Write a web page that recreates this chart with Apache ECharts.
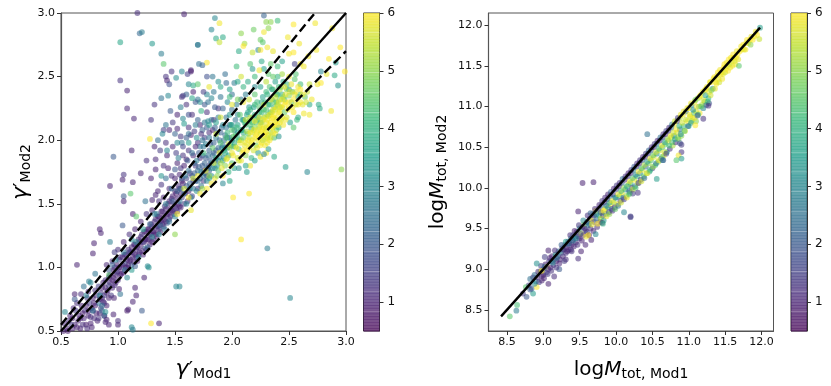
<!DOCTYPE html>
<html>
<head>
<meta charset="utf-8">
<title>Model comparison</title>
<script src="https://cdn.jsdelivr.net/npm/echarts@6/dist/echarts.min.js"></script>
<style>
  html, body { margin: 0; padding: 0; background: #fff; }
  #chart { width: 831px; height: 386px; }
</style>
</head>
<body>
<div id="chart"></div>
<script>
var viridis = ["#440154", "#482878", "#3e4989", "#31688e", "#26828e", "#1f9e89", "#35b779", "#6ece58", "#b5de2b", "#fde725"];
var colourMin = 0.5;
var colourMax = 6;

// [x, y, redshift]
var gammaOutliers = [
  [1.17,3.0,1.2],[1.58,2.99,1],[1.19,2.84,2.3],[1.21,2.85,2.8],[1.02,2.77,3.7],[1.3,2.76,3.4],[1.7,2.75,3],[1.38,2.68,2.8],
  [1.4,2.6,4.5],[1.78,2.61,6],[1.71,2.6,2.5],[1.74,2.59,2.2],[1.47,2.54,1.3],[1.56,2.54,3],[1.64,2.55,1],[1.64,2.54,0.9],
  [1.42,2.5,1.3],[1.43,2.47,1],[1.51,2.49,3.2],[1.61,2.52,1.5],[1.45,2.44,1.8],[1.02,2.47,1.3],[1.08,2.39,1],[1.08,2.25,1.1],
  [1.14,2.17,1.1],[1.32,2.28,1.3],[1.38,2.33,2.5],[1.44,2.35,3],[1.46,2.23,2],[1.29,2.16,1.3],[1.56,2.34,1.2],[1.57,2.35,1.5],
  [1.66,2.43,3.8],[1.7,2.44,4.5],[1.28,2.01,6],[1.32,1.95,1],[1.12,1.92,1],[0.96,1.87,2],[1.25,1.84,1.2],[1.05,1.73,1.3],
  [1.04,1.69,1],[1.13,1.67,1],[0.93,1.64,1],[1.2,1.74,1],[1.33,1.77,1],[1.29,1.7,1],[1.4,1.8,1.2],[1.4,2.08,1.5],[1.45,2.08,1],
  [1.52,2.09,1.1],[1.39,2.05,3],[1.57,2.17,3],[1.62,2.2,1.8],[1.7,2.16,2.2],[1.79,2.15,3],[1.58,2.13,3.4],[1.62,2.1,1.2],
  [1.67,2.07,1.5],[1.55,2.03,1.3],[1.6,2.02,2],[1.73,2.05,1.2],[1.52,1.98,3],[1.57,1.95,1.6],[1.62,1.98,3.5],[1.68,1.95,1.1],
  [1.76,2.28,2],[1.73,2.23,4],[1.79,2.3,2.5],[1.68,2.3,2],[1.65,2.33,3.7],[1.75,2.38,1.5],[1.8,2.42,5.8],[1.65,2.2,1.2],
  [1.85,2.96,3],[2.28,2.98,2.2],[1.89,2.92,5.9],[2.3,2.93,5],[2.34,2.93,5],[2.4,2.94,4.2],[1.82,2.87,3],[2.08,2.84,5],
  [2.19,2.87,4.7],[2.28,2.85,5.9],[2.32,2.88,5],[1.92,2.81,3.8],[1.86,2.8,3.8],[1.89,2.77,5.5],[1.7,2.75,2.5],[2.25,2.79,4.7],
  [2.27,2.77,4.5],[2.11,2.76,5.2],[2.1,2.74,6],[2.06,2.7,3.8],[2.18,2.69,5.5],[2.23,2.71,3],[2.25,2.71,6],[2.31,2.73,5.9],
  [2.36,2.7,5.8],[2.49,2.81,5.9],[2.54,2.91,6],[2.73,2.92,5.9],[2.88,2.88,5.9],[2.59,2.76,5.9],[2.5,2.68,5.9],[2.54,2.69,6],
  [2.67,2.66,5.9],[2.74,2.71,5.9],[2.95,2.73,6],[2.85,2.64,6],[2.91,2.61,3.5],[2.99,2.54,6],[2.55,2.6,1.5],[2.6,2.6,5.9],
  [2.63,2.58,5.9],[2.78,2.54,3],[2.83,2.52,5.8],[2.9,2.51,3.8],[2.78,2.45,6],[2.93,2.43,3.3],[2.75,2.44,5.9],[2.68,2.44,5.5],
  [2.76,2.28,3.8],[2.77,2.25,3.8],[2.87,2.23,5.9],[2.58,2.18,3.8],[2.63,2.21,5.9],[2.68,2.2,5.9],[2.41,2.03,3.3],[2.54,2.1,4.5],
  [2.37,1.87,3.8],[2.47,1.79,3.5],[2.66,1.75,3],[2.96,1.77,5],[2.28,1.89,3],[2.13,1.75,3.5],[1.92,1.66,3],[2.15,1.58,6],
  [2.01,1.55,6],[2.08,1.22,6],[2.31,1.15,2.8],[2.51,0.76,3],
  [1.05,1.56,2],[1.11,1.58,4.5],[1.05,1.52,1],[0.84,1.3,1],[0.85,1.27,1],[0.79,1.19,1],[0.78,1.11,1],[0.93,1.2,2.8],[0.64,1.02,1],
  [0.97,1.12,1.5],[1.04,1.33,2],[1.13,1.42,1],[1.16,1.4,4.5],[1.24,1.52,2.5],[1.3,1.53,1],[1.33,1.57,1],[1.5,1.26,5],[0.745,0.89,2.8],
  [0.62,0.79,1],[0.675,0.79,1.2],[0.74,0.81,1],[0.535,0.65,3],[0.965,0.76,1],[1.02,0.79,2.5],[1.01,0.83,1],[1.15,0.84,1],[1.16,0.78,1],
  [1.13,0.73,1],[1.09,0.67,1],[1.08,0.66,0.9],[1.21,0.66,2],[1.29,0.56,6],[1.36,0.56,1],[1.12,0.53,3],[1.13,0.51,2.8],[1.51,0.85,3],
  [1.54,0.85,3],[1.23,0.92,1],[1.26,1.01,3],[1.27,1.0,3.2],[1.08,0.92,3],[1.15,1.01,2],[0.92,0.94,4.5],[0.76,0.88,3],
  [0.89,0.65,3.2],[0.88,0.72,1.2],[0.86,0.7,2.5],[0.83,0.85,1.5],[0.96,0.63,1],[1.0,0.55,1],[1.0,0.58,1.2],[0.9,0.59,1],[0.89,0.57,1.1],[0.92,0.55,1]
];

var gammaPurple = [
  [0.52,0.5,1],[0.55,0.52,1],[0.57,0.58,1.2],[0.6,0.52,1],[0.6,0.6,0.9],[0.62,0.55,1.1],[0.63,0.66,1.4],[0.65,0.58,1],[0.66,0.62,1],
  [0.67,0.52,1],[0.68,0.7,1],[0.7,0.6,1.1],[0.71,0.66,1.3],[0.72,0.55,0.9],[0.73,0.52,1.2],[0.74,0.62,1],[0.75,0.72,1.5],[0.76,0.56,1],
  [0.77,0.68,1],[0.78,0.76,1],[0.79,0.6,1.2],[0.8,0.7,1],[0.8,0.82,1.2],[0.82,0.58,1],[0.83,0.72,2.5],[0.84,0.64,1],[0.85,0.8,1.3],
  [0.86,0.76,1],[0.87,0.88,1],[0.88,0.78,1.5],[0.89,0.84,1],[0.9,0.7,1],[0.91,0.82,1],[0.92,0.92,1.2],[0.93,0.88,1],[0.94,0.78,1.4],
  [0.95,0.9,1],[0.96,0.98,1],[0.97,0.86,1.3],[0.98,0.94,1],[0.99,1.02,1],[1.0,0.9,1.2],[1.0,0.97,1],[1.01,1.06,1.5],[1.02,0.94,1],
  [1.03,1.0,1.1],[1.04,1.08,1],[1.05,0.96,1],[1.06,1.03,2],[1.07,1.1,1],[1.08,1.0,1],[1.09,1.14,1.3],[1.1,1.05,1],[1.11,1.12,1],
  [1.12,1.02,2.2],[1.13,1.08,1],[1.14,1.18,1.5],[1.15,1.1,1],[1.16,1.14,1.1],[1.17,1.05,1],[1.18,1.22,1],[1.19,1.12,1.3],[1.2,1.17,1],
  [1.21,1.26,1.4],[1.22,1.1,1],[1.23,1.2,1],[1.24,1.15,2.4],[1.25,1.28,1],[1.26,1.22,1.2],[1.27,1.3,1],[1.28,1.18,1],[1.29,1.26,1.5],
  [1.3,1.32,1],[1.31,1.22,1.2],[1.32,1.28,1],[1.33,1.38,1.3],[1.34,1.24,1],[1.35,1.32,1.6],[1.36,1.4,1],[1.37,1.28,1],[1.38,1.36,1.1],
  [1.39,1.44,1.2],[1.4,1.32,1.5],[1.41,1.38,1],[1.42,1.46,1],[1.43,1.35,2],[1.44,1.42,1],[1.45,1.52,1.2],[1.46,1.4,1],[1.47,1.45,1.3],
  [1.48,1.56,1],[1.49,1.42,1.5],[1.5,1.48,1],[1.51,1.58,1],[1.52,1.44,1.2],[1.53,1.5,1],[1.54,1.62,1.4],[1.55,1.47,1],[1.56,1.55,1.5],
  [1.57,1.66,1],[1.58,1.5,1.3],[1.59,1.58,1],[1.6,1.7,1.6],[1.61,1.52,1.2],[1.62,1.6,1],[1.63,1.74,1.2],[1.65,1.56,1.5],[1.66,1.68,1],
  [1.68,1.8,1.4],[1.7,1.62,1.3],[1.72,1.86,1.2],[1.75,1.68,1.4],[1.4,1.55,1],[1.45,1.62,1.1],[1.5,1.7,1],[1.55,1.78,1.4],[1.6,1.85,1],
  [1.47,1.72,1.2],[1.52,1.82,1],[1.57,1.88,1.3],[1.44,1.78,1],[1.36,1.52,1.2],[1.3,1.45,1],[1.25,1.42,1.3],[1.2,1.36,1],[1.15,1.3,1],
  [1.1,1.26,1.2],[1.05,1.2,1],[1.0,1.14,1.2],[0.95,1.05,1],[0.9,1.02,1.1]
];

var gammaPurpleExtra = [
  [0.53,0.56,1.1],[0.56,0.5,0.9],[0.58,0.62,1],[0.59,0.55,1.4],[0.61,0.68,1.1],[0.64,0.53,1],[0.64,0.72,1.2],[0.67,0.6,1],[0.69,0.55,1.2],[0.69,0.64,0.9],
  [0.72,0.7,1],[0.73,0.76,1.3],[0.74,0.66,1],[0.76,0.61,1.2],[0.77,0.53,1],[0.78,0.66,1.5],[0.79,0.72,1],[0.81,0.64,1],[0.81,0.78,1.2],[0.83,0.6,1.3],
  [0.84,0.75,1],[0.85,0.68,1.4],[0.86,0.84,1],[0.87,0.73,1.1],[0.88,0.62,1],[0.89,0.9,1.2],[0.9,0.8,1],[0.92,0.76,1],[0.92,0.86,1.5],[0.93,0.94,1],
  [0.95,0.84,1.1],[0.96,0.92,1],[0.97,1.0,1.2],[0.98,0.88,1],[0.99,0.96,1.4],[1.01,1.0,1],[1.02,1.08,1.2],[1.03,0.95,1],[1.04,1.02,1],[1.06,1.1,1.3],
  [1.07,1.0,1],[1.08,1.06,1.1],[1.09,1.02,1],[1.1,1.12,1.6],[1.11,1.06,1],[1.12,1.16,1],[1.13,1.12,1.2],[1.14,1.04,1],[1.15,1.18,1],[1.16,1.08,1.3],
  [1.17,1.16,1],[1.18,1.1,1.1],[1.19,1.2,1],[1.2,1.24,1.2],[1.21,1.13,1],[1.22,1.2,1.5],[1.23,1.28,1],[1.24,1.22,1],[1.25,1.14,1.2],[1.26,1.3,1],
  [1.27,1.22,1.1],[1.28,1.26,1],[1.29,1.34,1.3],[1.3,1.2,1],[1.31,1.28,1],[1.32,1.36,1.2],[1.33,1.26,1],[1.34,1.32,1.1],[1.35,1.4,1],[1.36,1.3,1.4],
  [1.37,1.36,1],[1.38,1.44,1],[1.39,1.34,1.2],[1.4,1.4,1],[1.41,1.48,1.3],[1.42,1.36,1],[1.43,1.42,1.1],[1.44,1.5,1],[1.45,1.38,1.5],[1.46,1.46,1],
  [1.47,1.54,1.2],[1.48,1.44,1],[1.49,1.5,1.1],[1.5,1.6,1],[1.51,1.46,1.3],[1.52,1.54,1],[1.53,1.64,1.2],[1.54,1.48,1],[1.55,1.58,1.1],[1.56,1.68,1],
  [1.35,1.6,1],[1.38,1.65,1.3],[1.33,1.85,1.1],[1.37,1.92,1.4],[1.42,1.98,1.2],[1.48,1.95,1.1],[1.43,1.88,1],[1.51,1.9,1.5],[1.54,1.73,1.1],[1.58,1.8,1],
  [1.62,1.92,1.3],[1.66,1.88,1.1],[1.7,1.98,1.2],[1.64,2.04,1],[1.76,2.02,1.5],[1.8,2.06,1.2],[1.72,2.12,1],[1.84,2.16,1.1],[1.88,2.25,1.3],[1.6,2.28,1.2],
  [1.52,2.2,1],[1.48,2.14,1.4],[1.66,2.38,1],[1.78,2.22,1.2],[1.83,2.08,1],[1.75,1.76,1.2],[1.78,1.72,1.1],[1.8,1.8,1.4]
];

var gammaBlue = [
  [0.62,0.75,2],[0.7,0.85,2.5],[0.8,0.95,2.6],[0.88,0.62,2.2],[0.95,1.02,2.2],[1.05,1.12,2.6],[1.12,1.22,3],[1.18,1.08,3],[1.22,1.3,3.5],
  [1.28,1.34,2.2],[1.3,1.24,3],[1.34,1.42,2.4],[1.37,1.33,2.2],[1.42,1.5,2.8],[1.45,1.36,2.4],[1.48,1.52,2],[1.5,1.4,3],[1.52,1.6,2.2],
  [1.54,1.52,2.6],[1.56,1.7,2],[1.58,1.58,2.4],[1.6,1.5,3],[1.6,1.64,2],[1.62,1.76,2.6],[1.63,1.66,2.2],[1.64,1.55,2.8],[1.65,1.72,2],
  [1.66,1.62,2.5],[1.67,1.82,2.2],[1.68,1.68,1.9],[1.69,1.6,3.1],[1.7,1.76,2.4],[1.71,1.9,2],[1.72,1.7,2.2],[1.73,1.64,2.6],[1.74,1.8,2],
  [1.75,1.95,2.6],[1.76,1.74,2.3],[1.77,1.86,2],[1.78,1.68,3],[1.79,1.78,2.4],[1.8,1.92,2.2],[1.8,2.02,2.6],[1.81,1.84,2],[1.82,1.72,3.2],
  [1.83,1.88,2.4],[1.84,1.98,2.2],[1.85,1.78,2.8],[1.86,1.92,2],[1.87,2.06,2.5],[1.88,1.84,2.6],[1.89,2.0,2.2],[1.9,1.9,3],[1.91,2.1,2.3],
  [1.92,1.96,2.5],[1.93,1.86,3.2],[1.94,2.04,2.4],[1.95,2.18,2.6],[1.96,1.94,3],[1.98,2.12,2.2],[2.0,2.0,3],[2.0,2.24,2.4],[2.02,2.08,2.8],
  [2.05,2.2,3],[2.08,2.32,2.6],[2.1,2.16,3.2],[2.12,2.36,2.8],[2.15,2.26,3.4],[2.2,2.42,3],[1.85,2.1,2.2],[1.88,2.18,2.8],[1.82,2.16,2.4],
  [1.78,2.1,2],[1.74,2.0,2.6],[1.92,2.25,2.2],[1.96,2.3,3],[2.0,2.36,2.5],[1.85,2.26,2],[1.9,2.34,2.6],[1.82,2.33,3],[1.95,2.45,2.3],
  [2.02,2.45,2.7],[1.88,2.46,3.2],[1.94,2.52,2.4],[1.83,2.5,2.6],[1.78,2.5,1.8]
];

var gammaBlueExtra = [
  [1.47,1.62,2.4],[1.5,1.77,2],[1.53,1.86,2.8],[1.55,1.62,2.2],[1.59,1.72,2.6],[1.61,1.84,2],[1.63,1.62,3],[1.65,1.9,2.4],[1.67,1.74,2.1],[1.69,1.84,2.8],
  [1.7,1.68,2.3],[1.71,1.79,2.2],[1.72,1.95,2.6],[1.73,1.75,3],[1.74,1.88,2.1],[1.75,1.72,2.5],[1.76,1.82,2.2],[1.77,1.97,2.8],[1.78,1.78,2.3],[1.79,1.88,2.5],
  [1.8,1.7,3.4],[1.8,1.76,2.2],[1.81,1.97,2],[1.82,1.82,2.6],[1.83,1.78,3.1],[1.84,1.9,2.2],[1.85,1.84,2.4],[1.86,2.02,2.8],[1.87,1.8,3.4],[1.88,1.94,2.3],
  [1.89,1.87,3],[1.9,2.06,2.2],[1.91,1.94,2.7],[1.92,1.84,3.6],[1.93,2.0,2.4],[1.94,1.94,3.2],[1.95,2.1,2.6],[1.96,2.02,3],[1.97,1.88,3.6],[1.98,2.02,2.8],
  [2.0,2.12,3.2],[2.01,1.95,3.6],[2.03,2.16,2.6],[2.05,2.06,3.4],[1.86,2.14,3.6],[1.92,2.12,3],[1.98,2.2,3.4],[2.04,2.28,2.8],[1.76,2.14,2.6],[1.69,2.02,3.2],
  [1.74,2.08,2.2],[1.8,2.12,3.6],[1.68,2.12,2.8],[1.62,2.05,2.5],[1.72,2.3,3.2],[1.84,2.38,2.6],[1.9,2.42,3.8],[1.98,2.4,3.6],[1.78,2.36,3],[1.7,2.32,2.6],
  [1.6,2.36,2.2],[1.62,2.44,3],[1.55,2.26,2.8],[1.42,2.12,2.6],[1.5,2.05,2.2],[1.56,1.98,2.6],[1.43,1.92,3],[1.35,2.0,2.4],[1.38,1.72,3.3],[1.42,1.7,2.4],
  [0.72,0.78,3],[0.78,0.66,2.6],[0.86,0.66,2.2],[0.84,0.78,3],[0.92,0.98,2],[0.98,1.06,3],[1.06,0.98,2.4],[1.12,0.98,3.4],[1.16,1.2,3],[1.26,1.16,2.2],
  [1.32,1.42,2.8],[1.36,1.26,3],[1.41,1.3,2.6]
];

var gammaGreen = [
  [1.86,1.86,4],[1.9,1.98,4.4],[1.94,1.9,3.8],[1.96,2.06,4.2],[1.99,1.96,3.6],[2.0,2.08,4.5],[2.02,1.98,3.8],[2.03,2.04,4.2],[2.05,2.12,3.6],[2.06,2.0,4.4],
  [2.08,2.08,4],[2.09,2.16,3.6],[2.1,2.06,3.8],[2.12,2.12,4.2],[2.13,2.2,3.8],[2.14,2.05,4.5],[2.15,2.15,3.6],[2.16,2.24,4.2],[2.17,2.09,3.8],[2.18,2.14,4.4],
  [2.19,2.26,3.6],[2.2,2.2,4],[2.21,2.14,4.4],[2.22,2.3,4.2],[2.23,2.18,3.8],[2.24,2.26,4.5],[2.25,2.14,4],[2.26,2.22,4.2],[2.27,2.34,3.6],[2.28,2.24,4.4],
  [2.29,2.3,4],[2.3,2.38,4.2],[2.31,2.2,4.6],[2.32,2.28,3.8],[2.33,2.42,4.4],[2.34,2.22,4.2],[2.35,2.32,3.8],[2.36,2.4,4.6],[2.37,2.26,4],[2.38,2.46,3.6],
  [2.39,2.3,4.5],[2.4,2.36,3.8],[2.41,2.42,4.2],[2.42,2.26,4.6],[2.44,2.36,4],[2.45,2.46,3.8],[2.46,2.32,4.4],[2.48,2.44,4],[2.5,2.4,3.4],[2.53,2.38,4.2],
  [2.55,2.48,4.5],[2.58,2.34,3.6],[2.6,2.44,4.2],[2.2,2.5,4.2],[2.28,2.56,3.6],[2.32,2.52,4.5],[2.1,2.42,4],[2.05,2.46,3.7],[2.16,2.6,4.4],[2.26,2.62,3.8],
  [2.4,2.58,4.2],[2.44,2.62,3.6],[2.34,2.6,4.6],[1.98,2.34,4.2]
];

var gammaYellow = [
  [1.62,1.55,6],[1.66,1.7,5.5],[1.72,1.58,5.9],[1.75,1.9,4.2],[1.78,1.62,6],[1.8,1.72,5],[1.83,1.94,4.6],[1.85,1.7,5.9],[1.86,2.05,5.6],
  [1.88,1.76,4.5],[1.9,1.82,5.2],[1.9,2.18,5.6],[1.92,1.72,6],[1.93,1.92,4],[1.94,1.8,5],[1.95,2.02,4.4],[1.96,1.86,5.6],[1.97,1.75,4],
  [1.98,1.94,5.2],[1.99,2.12,3.8],[2.0,1.82,4.4],[2.0,1.9,5.8],[2.01,2.03,4.6],[2.02,1.78,3.6],[2.03,1.95,5],[2.04,2.1,4.2],[2.05,1.86,5.6],
  [2.05,2.02,4],[2.06,1.93,4.6],[2.07,2.2,4.5],[2.08,1.84,5.9],[2.08,2.0,5.4],[2.09,2.08,3.8],[2.1,1.92,6],[2.1,2.02,4.6],[2.11,2.14,4.2],
  [2.12,1.88,5],[2.12,1.98,5.8],[2.13,2.07,5.2],[2.14,2.22,3.6],[2.15,1.94,5.9],[2.15,2.02,5.5],[2.16,2.12,4.4],[2.17,1.86,4],[2.17,1.98,6],
  [2.18,2.06,5.4],[2.18,2.18,4],[2.19,1.92,5.6],[2.2,2.02,5.9],[2.2,2.1,5],[2.2,2.28,4.2],[2.21,1.96,4.8],[2.22,2.06,5.9],[2.22,2.16,4.6],
  [2.23,1.9,3.4],[2.23,2.0,5.8],[2.24,2.1,5.2],[2.24,2.22,4.2],[2.25,1.96,6],[2.25,2.05,5.6],[2.26,2.14,5],[2.26,2.3,3.8],[2.27,2.0,5],
  [2.27,2.09,5.9],[2.28,2.18,4.6],[2.29,1.96,5.9],[2.29,2.06,5.5],[2.3,2.14,5.8],[2.3,2.24,4.4],[2.31,2.02,5.2],[2.31,2.36,4],[2.32,2.1,5.8],
  [2.32,2.19,5],[2.33,2.0,6],[2.33,2.28,4.2],[2.34,2.06,5],[2.34,2.14,5.9],[2.35,2.22,5.2],[2.35,2.4,3.6],[2.36,2.1,5.5],[2.36,2.18,5.8],
  [2.37,2.02,4.4],[2.37,2.3,4.6],[2.38,2.14,6],[2.38,2.24,5.4],[2.39,2.08,5],[2.39,2.36,4.4],[2.4,2.18,5.8],[2.4,2.28,5],[2.41,2.1,4],
  [2.42,2.22,5.9],[2.42,2.32,4.8],[2.43,2.16,5.6],[2.43,2.42,4.2],[2.44,2.26,5.4],[2.45,2.12,5.9],[2.45,2.34,5],[2.46,2.22,4.6],[2.47,2.3,5.9],
  [2.48,2.18,5.6],[2.48,2.4,4.8],[2.5,2.26,5.9],[2.5,2.35,5],[2.51,2.14,3.6],[2.52,2.3,4.6],[2.52,2.44,5.8],[2.54,2.22,6],[2.55,2.36,5.9],
  [2.56,2.28,5.5],[2.57,2.16,4.2],[2.58,2.42,5.9],[2.6,2.3,5.9],[2.6,2.36,4.4],[2.62,2.28,5.8],[2.64,2.34,4.6],[2.66,2.38,5.5],[2.7,2.32,5.9],
  [2.68,2.28,3.8],[2.44,2.52,5.2],[2.4,2.5,4],[2.36,2.5,4.6],[2.3,2.46,5.4],[2.25,2.42,3.6],[2.2,2.36,4.5],[2.15,2.32,5.6],[2.1,2.3,5.9],
  [2.05,2.32,4.8],[2.0,2.28,5.8],[2.14,2.46,3.8],[2.24,2.55,5.9],[2.18,2.56,3.4],[2.08,2.5,5.6],[2.04,2.58,4.2],[2.5,2.5,5.9],[2.56,2.52,4.4],
  [1.98,1.68,3.8],[2.06,1.78,3.2],[2.16,1.8,5.9],[2.12,1.8,3.6],[2.3,1.9,5.9],[2.32,1.93,3.4],[2.25,1.87,5.9],[2.2,1.84,3.6]
];

var gammaYellowExtra = [
  [1.52,1.42,6],[1.58,1.62,5.5],[1.64,1.45,5.8],[1.7,1.72,5.9],[1.74,1.62,5.2],[1.77,1.76,5.8],[1.82,1.66,5.9],[1.84,1.82,5.5],[1.87,1.72,5],[1.89,1.9,5.9],
  [1.91,1.78,5.8],[1.95,1.85,5.9],[1.97,1.97,5.4],[1.99,1.8,5.9],[2.01,1.88,5.9],[2.04,1.94,6],[2.06,1.84,5.6],[2.07,1.98,5.9],[2.09,1.9,5.9],[2.11,1.96,5.8],
  [2.13,1.92,6],[2.14,2.0,5.9],[2.16,1.96,5.8],[2.16,2.06,6],[2.18,2.0,5.9],[2.19,2.08,5.8],[2.21,2.04,6],[2.22,1.94,5.9],[2.23,2.08,5.9],[2.24,2.02,6],
  [2.25,2.12,5.9],[2.26,1.98,5.9],[2.26,2.07,6],[2.27,2.16,5.8],[2.28,2.04,6],[2.28,2.1,5.9],[2.29,2.01,5.8],[2.29,2.18,5.9],[2.3,2.06,6],[2.3,2.1,5.7],
  [2.31,1.98,5.9],[2.31,2.16,5.9],[2.32,2.04,5.8],[2.33,2.12,6],[2.33,2.2,5.9],[2.34,2.02,5.6],[2.35,2.1,5.9],[2.35,2.17,6],[2.36,2.06,5.9],[2.36,2.24,5.9],
  [2.37,2.12,5.8],[2.37,2.2,6],[2.38,2.05,5.9],[2.39,2.16,5.8],[2.39,2.26,5.9],[2.4,2.12,6],[2.41,2.22,5.9],[2.41,2.3,5.8],[2.42,2.14,5.9],[2.43,2.26,6],
  [2.44,2.18,5.8],[2.44,2.32,5.9],[2.46,2.28,6],[2.47,2.16,5.9],[2.47,2.36,5.8],[2.49,2.24,5.9],[2.5,2.3,6],[2.51,2.38,5.8],[2.53,2.26,5.9],[2.54,2.32,6],
  [2.56,2.38,5.8],[2.58,2.28,5.9],[2.6,2.4,6],[2.62,2.36,5.9],[2.65,2.3,5.6],[2.46,2.42,5.9],[2.42,2.4,5.2],[2.38,2.34,5.5],[2.34,2.32,5.8],[2.28,2.28,5.6],
  [2.24,2.18,5.7],[2.2,2.15,5.9],[2.16,2.18,5.5],[2.12,2.16,5.6]
];

var gammaEqualX = [0.5, 3];
var gammaEqualY = [0.5, 3];
var gammaUpper = [[0.5, 0.55], [2.727, 3]];
var gammaLower = [[0.556, 0.5], [3, 2.7]];
var gammaTicks = [0.5, 1, 1.5, 2, 2.5, 3];

// [x, y, redshift]
var massOutliers = [
  [8.54,8.42,4.5],[8.63,8.49,2.8],[8.64,8.56,4.3],[8.77,8.66,2],[8.86,8.7,3.5],[8.91,8.78,6],[8.91,9.07,3.2],[8.76,8.78,4.5],[8.82,8.88,2.5],
  [9.15,8.91,1.2],[9.07,8.82,1],[9.07,9.23,1],[9.02,9.15,1.5],[9.22,9.0,2],[9.31,9.12,1.2],[9.48,9.13,1.2],[9.52,9.22,1],[9.66,9.36,1],
  [9.72,9.43,3],[9.48,9.71,1],[9.81,9.57,1.3],[10.11,9.7,3],[10.2,9.64,1.5],[10.43,10.66,2.5],[9.54,10.06,1],[9.69,10.07,1],[10.56,10.11,3.5],
  [10.2,9.65,1.5],[9.82,9.56,4],[10.88,10.55,2],[10.9,10.44,1.3],[10.86,10.4,5.9],[10.83,10.34,4.5],[10.9,10.36,3.5],[10.69,10.42,1.5],[10.65,10.34,2],
  [10.3,9.94,1.3],[10.23,9.93,1.5],[10.18,9.92,4.5],[11.98,11.97,3.5],[11.97,11.83,5.5],[11.85,11.76,5],[11.69,11.5,4.5],[11.27,11.01,1.2],
  [11.2,10.85,1.3],[11.12,10.89,2],[11.03,10.8,3.5],[11.09,10.77,6],[10.9,10.53,1.4],[10.64,10.34,2.6],[9.38,9.24,1.2],[9.58,9.3,1.1],[9.62,9.42,6],
  [9.18,9.02,1.3],[8.98,8.86,1],[8.88,8.82,3],[8.82,8.75,2],[8.72,8.7,1.4],[8.98,8.98,6]
];

var massLine = [
  [8.8,8.8,1.5],[8.84,8.76,2],[8.86,8.9,1.2],[8.9,8.85,3],[8.92,8.9,1],[8.94,8.84,1.5],[8.96,8.97,5.5],[8.98,8.92,1.2],[9.0,9.0,2.4],[9.0,8.93,1],
  [9.03,9.06,1],[9.04,8.96,1.5],[9.05,9.03,6],[9.07,9.0,1.2],[9.08,9.1,1.3],[9.1,9.02,1],[9.11,9.1,2],[9.12,9.16,1],[9.14,9.05,1.3],[9.15,9.12,2.6],
  [9.17,9.18,3.5],[9.18,9.1,1],[9.2,9.16,1.4],[9.21,9.22,2.4],[9.23,9.12,1],[9.24,9.2,3],[9.26,9.26,1.5],[9.27,9.16,1.1],[9.28,9.24,2.6],[9.3,9.3,2.2],
  [9.31,9.2,1.3],[9.32,9.27,1],[9.34,9.34,1.5],[9.35,9.24,1.1],[9.36,9.32,2.4],[9.38,9.38,3],[9.39,9.3,1],[9.4,9.36,1.2],[9.41,9.42,2],[9.42,9.28,1.1],
  [9.44,9.4,2.8],[9.45,9.33,1.2],[9.46,9.46,1.2],[9.48,9.4,1],[9.5,9.5,3.4],[9.5,9.38,1.3],[9.52,9.44,6],[9.54,9.52,1.2],[9.55,9.42,1],[9.56,9.55,5],
  [9.58,9.48,2],[9.6,9.58,1.2],[9.6,9.46,1.3],[9.62,9.54,3],[9.64,9.62,1.1],[9.65,9.5,1.2],[9.66,9.6,5.8],[9.68,9.68,2.2],[9.7,9.58,1.4],[9.7,9.66,1],
  [9.72,9.72,5.9],[9.73,9.62,2.6],[9.74,9.52,1.2],[9.76,9.74,1.3],[9.77,9.66,3.5],[9.78,9.58,1],[9.8,9.78,2.4],[9.8,9.7,6],[9.82,9.66,1.3],[9.84,9.82,1.1],
  [9.85,9.74,5.5],[9.86,9.68,3.2],[9.88,9.86,1],[9.89,9.76,4],[9.9,9.7,1.4],[9.92,9.9,2.6],[9.92,9.8,6],[9.94,9.74,2],[9.96,9.92,1.3],[9.97,9.82,5],
  [9.98,9.76,1.2],[10.0,9.98,1.6],[10.0,9.88,3.4],[10.02,9.8,5.9],[10.04,10.02,1],[10.05,9.9,4.5],[10.06,9.84,1.4],[10.08,10.06,2.2],[10.08,9.94,6],[10.1,9.88,2.4],
  [10.12,10.1,1],[10.13,9.98,3.4],[10.14,9.9,5],[10.16,10.14,1.5],[10.17,10.04,5.6],[10.18,9.96,2],[10.2,10.18,1.2],[10.2,10.06,4],[10.22,10.0,1.5],[10.24,10.22,3],
  [10.25,10.1,5.9],[10.26,10.02,2.6],[10.28,10.26,1.3],[10.29,10.14,4.2],[10.3,10.06,5.5],[10.32,10.3,1],[10.33,10.18,3],[10.34,10.1,1.4],[10.36,10.34,2.2],[10.36,10.22,5.9],
  [10.38,10.14,4.6],[10.4,10.38,1.2],[10.41,10.26,2.4],[10.42,10.18,5.2],[10.44,10.42,1.5],[10.45,10.3,5],[10.46,10.2,3.6],[10.48,10.46,2],[10.48,10.34,4.4],[10.5,10.24,1.4],
  [10.52,10.5,1.2],[10.52,10.38,5.8],[10.54,10.28,4.4],[10.56,10.54,2.8],[10.56,10.42,3.2],[10.58,10.32,5],[10.6,10.58,1.3],[10.6,10.46,5.6],[10.62,10.36,2.2],[10.64,10.62,1.5],
  [10.64,10.5,4.4],[10.66,10.4,5.8],[10.68,10.66,1.1],[10.68,10.54,4.8],[10.7,10.44,3.6],[10.72,10.7,1.4],[10.72,10.58,5.9],[10.74,10.48,1.3],[10.76,10.74,2.4],[10.76,10.62,5.5],
  [10.78,10.52,5.2],[10.8,10.78,5.9],[10.8,10.64,3.2],[10.82,10.56,1.2],[10.84,10.82,1.3],[10.84,10.68,5.7],[10.86,10.6,4.8],[10.88,10.86,5.4],[10.88,10.72,2.6],[10.9,10.64,5],
  [10.92,10.9,5.9],[10.93,10.76,4.2],[10.95,10.7,5.6],[10.96,10.94,2.4],[10.98,10.82,5.9],[11.0,10.98,5.9],[11.0,10.76,4],[11.02,10.88,5.5],[11.04,11.02,3],[11.05,10.86,5.9],
  [11.07,10.92,4.5],[11.08,11.06,5.9],[11.1,10.94,5.6],[11.1,10.82,5],[11.12,11.1,5.2],[11.14,11.0,4],[11.15,10.92,5.9],[11.16,11.14,5.9],[11.18,11.02,5.4],[11.2,10.98,3],
  [11.22,11.2,5.8],[11.22,11.06,5],[11.24,11.02,2.4],[11.25,11.24,5.9],[11.27,11.1,4],[11.28,11.04,1.8],[11.3,11.3,5.9],[11.3,11.14,5.6],[11.33,11.22,3.4],[11.35,11.36,6],
  [11.36,11.22,5.8],[11.38,11.28,5.9],[11.4,11.42,6],[11.42,11.3,5.6],[11.44,11.4,5.9],[11.46,11.34,5.9],[11.48,11.48,6],[11.5,11.42,5.5],[11.52,11.54,5.9],[11.54,11.44,6],
  [11.56,11.52,5],[11.58,11.6,5.9],[11.6,11.5,5.8],[11.62,11.6,6],[11.64,11.52,5.9],[11.66,11.68,5.9],[11.68,11.58,5.8],[11.7,11.68,6],[11.73,11.7,5.8],[11.75,11.76,6],
  [11.78,11.7,5.9],[11.8,11.82,6],[11.82,11.78,5.9],[11.86,11.86,5.8],[11.88,11.82,6],[11.92,11.92,5.9],[11.94,11.88,6]
];

var massLineExtra = [
  [8.88,8.93,2.4],[8.93,8.97,1.2],[8.97,9.04,1.5],[9.01,8.89,1.1],[9.02,9.03,2.2],[9.06,8.94,1.4],[9.09,9.14,1.1],[9.11,8.98,1.3],[9.13,9.08,3],[9.16,9.23,1.2],
  [9.19,9.14,2.6],[9.22,9.07,1.1],[9.25,9.3,2.2],[9.27,9.24,1],[9.29,9.1,1.4],[9.31,9.34,3.6],[9.33,9.22,1],[9.35,9.31,2],[9.37,9.42,1.2],[9.39,9.22,1.3],
  [9.41,9.35,2.6],[9.43,9.47,1],[9.45,9.38,3],[9.47,9.3,1.2],[9.49,9.54,1.4],[9.51,9.44,2],[9.53,9.35,1],[9.55,9.6,3],[9.57,9.5,1.1],[9.59,9.4,5.8],
  [9.61,9.66,1.3],[9.63,9.56,2.4],[9.63,9.42,1],[9.65,9.69,2.2],[9.67,9.55,5.8],[9.69,9.47,1.1],[9.71,9.74,1.2],[9.73,9.68,3.2],[9.75,9.56,6],[9.77,9.79,1.1],
  [9.79,9.7,2.2],[9.79,9.62,5.4],[9.81,9.84,1.4],[9.83,9.72,6],[9.83,9.6,3.4],[9.85,9.88,1.2],[9.87,9.78,2.8],[9.87,9.65,5.8],[9.89,9.92,1],[9.91,9.82,3.6],
  [9.91,9.68,5],[9.93,9.95,2.2],[9.95,9.84,5.9],[9.95,9.72,1.3],[9.97,9.99,1.1],[9.99,9.88,3],[9.99,9.74,4.6],[10.01,10.03,1.4],[10.03,9.92,5.8],[10.03,9.78,2.6],
  [10.05,10.06,1.2],[10.07,9.96,4.2],[10.07,9.82,5.6],[10.09,10.11,2.4],[10.11,10.0,5],[10.11,9.86,1.5],[10.13,10.14,1.2],[10.15,10.02,3.8],[10.15,9.88,5.9],[10.17,10.18,1],
  [10.19,10.08,5.8],[10.19,9.94,2.8],[10.21,10.22,1.4],[10.23,10.12,4.4],[10.23,9.98,5.4],[10.25,10.26,2],[10.27,10.16,3],[10.27,10.0,4.4],[10.29,10.3,1.2],[10.31,10.2,5.9],
  [10.31,10.06,1.5],[10.33,10.34,1.3],[10.35,10.24,4.2],[10.35,10.08,5.6],[10.37,10.38,1.1],[10.39,10.28,5.2],[10.39,10.12,2.4],[10.41,10.42,1.5],[10.43,10.32,3.4],[10.43,10.18,5.8],
  [10.45,10.46,2.2],[10.47,10.36,5.8],[10.47,10.22,4.2],[10.49,10.5,1.2],[10.51,10.4,4.6],[10.51,10.26,5],[10.53,10.54,1.4],[10.55,10.44,5.6],[10.55,10.3,2.8],[10.57,10.58,1.1],
  [10.59,10.48,4],[10.59,10.34,5.8],[10.61,10.62,2.4],[10.63,10.52,5.8],[10.63,10.38,4.6],[10.65,10.66,1.3],[10.67,10.56,3.6],[10.67,10.44,5.5],[10.69,10.7,1.5],[10.71,10.6,5],
  [10.73,10.74,1.2],[10.73,10.52,4.2],[10.75,10.64,5.8],[10.77,10.78,2.6],[10.77,10.56,4.4],[10.79,10.68,5.6],[10.81,10.82,5.5],[10.81,10.6,3.6],[10.83,10.72,5.9],[10.85,10.86,1.4],
  [10.85,10.62,5],[10.87,10.76,4],[10.89,10.9,5.8],[10.89,10.66,3.2],[10.91,10.8,5.6],[10.93,10.94,5.9],[10.94,10.7,4.6],[10.96,10.84,5.5],[10.98,10.98,5.9],[10.99,10.76,2.4],
  [11.01,10.9,5.9],[11.03,11.04,5.9],[11.04,10.82,5.2],[11.06,10.96,3.2],[11.08,10.86,5.8],[11.09,11.08,4.8],[11.11,11.0,5.9],[11.13,10.9,4.2],[11.15,11.12,5.9],[11.17,11.0,4.6],
  [11.19,11.18,5.9],[11.2,11.08,5.6],[11.23,11.14,3.6],[11.24,11.22,5.9],[11.26,11.06,4.2],[11.28,11.18,5.8],[11.29,11.3,5.9],[11.31,11.2,5],[11.34,11.34,5.9],[11.37,11.3,5.9],
  [11.39,11.38,5.9],[11.41,11.34,5.8],[11.43,11.45,5.9],[11.45,11.42,6],[11.47,11.4,5.8],[11.49,11.52,6],[11.51,11.46,5.9],[11.53,11.5,5.6],[11.55,11.58,6],[11.57,11.48,5.9],
  [11.59,11.56,5.9],[11.61,11.64,6],[11.63,11.56,5.7],[11.65,11.6,5.9],[11.67,11.64,6],[11.72,11.74,5.9],[11.76,11.7,5.8],[11.79,11.78,5.9],[11.84,11.82,6],[11.9,11.86,5.9]
];

var massLineX = [8.42, 11.98];
var massLineY = [8.42, 11.97];
var massTicks = [8.5, 9, 9.5, 10, 10.5, 11, 11.5, 12];

var colourbarTicks = [1, 2, 3, 4, 5, 6];
var colourbarEdges = [0.84, 1.19, 1.53, 1.88, 2.22, 2.56, 2.91, 3.25, 3.59, 3.94, 4.28, 4.63, 4.97, 5.31, 5.66];

function hexToRgb(hex) {
  return [parseInt(hex.substr(1, 2), 16), parseInt(hex.substr(3, 2), 16), parseInt(hex.substr(5, 2), 16)];
}

function colourAt(v) {
  let t = (v - colourMin) / (colourMax - colourMin) * (viridis.length - 1);
  let i = Math.min(Math.floor(t), viridis.length - 2);
  let a = hexToRgb(viridis[i]);
  let b = hexToRgb(viridis[i + 1]);
  let f = t - i;
  let c = a.map((p, k) => Math.round(p + (b[k] - p) * f));
  return "rgba(" + c.join(",") + ",0.72)";
}

// colourbar body, one thin rect per step plus the light seams
function renderColourbar(params, api) {
  let lo = api.value(0);
  let hi = api.value(1);
  let p0 = api.coord([0, hi]);
  let p1 = api.coord([1, lo]);
  return {
    type: "rect",
    shape: { x: p0[0], y: p0[1], width: p1[0] - p0[0], height: p1[1] - p0[1] + 0.5 },
    style: { fill: colourAt((lo + hi) / 2) },
  };
}

function renderSeam(params, api) {
  let p0 = api.coord([0, api.value(0)]);
  let p1 = api.coord([1, api.value(0)]);
  return {
    type: "rect",
    shape: { x: p0[0], y: p0[1] - 0.5, width: p1[0] - p0[0], height: 1 },
    style: { fill: "rgba(255,255,255,0.28)" },
  };
}

var colourbarSteps = [];
for (let v = colourMin; v < colourMax - 0.001; v += 0.05) {
  colourbarSteps.push([v, v + 0.05]);
}

var fontName = "DejaVu Sans";
var axisColor = "#555";

function tickFormat(v) {
  return Number(v).toFixed(1);
}

function makeAxis(ticks, min, max, name, gap, rich) {
  return {
    type: "value",
    min: min,
    max: max,
    name: name,
    nameLocation: "middle",
    nameGap: gap,
    nameTextStyle: { color: "#000", fontFamily: fontName, rich: rich },
    splitLine: { show: false },
    axisLine: { show: true, onZero: false, lineStyle: { color: axisColor, width: 1.2 } },
    axisTick: { show: true, length: 4, customValues: ticks, lineStyle: { color: "#333", width: 1 } },
    axisLabel: { show: true, customValues: ticks, formatter: tickFormat, color: "#111", fontFamily: fontName, fontSize: 11, margin: 6 },
  };
}

var titleRich = {
  g: { fontFamily: fontName, fontStyle: "italic", fontSize: 22, color: "#000" },
  n: { fontFamily: fontName, fontSize: 20, color: "#000" },
  m: { fontFamily: fontName, fontStyle: "italic", fontSize: 20, color: "#000" },
  s: { fontFamily: fontName, fontSize: 14, color: "#000", padding: [9, 0, 0, 0] },
};

function makeColourAxis() {
  return {
    type: "value",
    min: colourMin,
    max: colourMax,
    position: "right",
    splitLine: { show: false },
    axisLine: { show: true, onZero: false, lineStyle: { color: "#333", width: 1 } },
    axisTick: { show: true, length: 4, customValues: colourbarTicks, lineStyle: { color: "#333" } },
    axisLabel: { show: true, customValues: colourbarTicks, color: "#111", fontFamily: fontName, fontSize: 12, margin: 8 },
  };
}

function hiddenAxis() {
  return { type: "value", min: 0, max: 1, show: false };
}

function scatterSeries(idx, data) {
  return {
    type: "scatter",
    xAxisIndex: idx,
    yAxisIndex: idx,
    data: data,
    symbolSize: 5.8,
    itemStyle: { opacity: 0.55, borderWidth: 0 },
    silent: true,
    z: 2,
  };
}

function lineSeries(idx, data, dashed) {
  return {
    type: "line",
    xAxisIndex: idx,
    yAxisIndex: idx,
    data: data,
    showSymbol: false,
    symbol: "none",
    clip: true,
    silent: true,
    z: 5,
    lineStyle: { color: "#000", width: 2.4, type: dashed ? [9, 4.5] : "solid" },
  };
}

var gammaAll = gammaPurple.concat(gammaPurpleExtra, gammaBlue, gammaBlueExtra, gammaGreen, gammaYellow, gammaYellowExtra, gammaOutliers);
var massAll = massLine.concat(massLineExtra, massOutliers);

var dom = document.getElementById("chart");
var myChart = echarts.init(dom, null, { renderer: "canvas" });

var option = {
  animation: false,
  backgroundColor: "#fff",
  grid: [
    { left: 61, top: 13, width: 285, height: 318, show: true, borderColor: axisColor, borderWidth: 1, backgroundColor: "#fff" },
    { left: 488.5, top: 13, width: 285, height: 318, show: true, borderColor: axisColor, borderWidth: 1, backgroundColor: "#fff" },
    { left: 363.5, top: 13, width: 16, height: 318, show: true, borderColor: "#333", borderWidth: 1 },
    { left: 791, top: 13, width: 16, height: 318, show: true, borderColor: "#333", borderWidth: 1 },
  ],
  xAxis: [
    Object.assign(makeAxis(gammaTicks, 0.5, 3, "{g|γ}{n|′}{s|Mod1}", 27, titleRich), { gridIndex: 0 }),
    Object.assign(makeAxis(massTicks, 8.247, 12.165, "{n|log}{m|M}{s|tot, Mod1}", 27, titleRich), { gridIndex: 1 }),
    Object.assign(hiddenAxis(), { gridIndex: 2 }),
    Object.assign(hiddenAxis(), { gridIndex: 3 }),
  ],
  yAxis: [
    Object.assign(makeAxis(gammaTicks, 0.5, 3, "{g|γ}{n|′}{s|Mod2}", 28, titleRich), { gridIndex: 0 }),
    Object.assign(makeAxis(massTicks, 8.24, 12.15, "{n|log}{m|M}{s|tot, Mod2}", 39, titleRich), { gridIndex: 1 }),
    Object.assign(makeColourAxis(), { gridIndex: 2 }),
    Object.assign(makeColourAxis(), { gridIndex: 3 }),
  ],
  visualMap: [
    { show: false, type: "continuous", seriesIndex: [0, 1], dimension: 2, min: colourMin, max: colourMax, inRange: { color: viridis } },
  ],
  series: [
    scatterSeries(0, gammaAll),
    scatterSeries(1, massAll),
    lineSeries(0, [[gammaEqualX[0], gammaEqualY[0]], [gammaEqualX[1], gammaEqualY[1]]], false),
    lineSeries(0, gammaUpper, true),
    lineSeries(0, gammaLower, true),
    lineSeries(1, [[massLineX[0], massLineY[0]], [massLineX[1], massLineY[1]]], false),
    { type: "custom", xAxisIndex: 2, yAxisIndex: 2, data: colourbarSteps, renderItem: renderColourbar, encode: { y: [0, 1] }, silent: true },
    { type: "custom", xAxisIndex: 3, yAxisIndex: 3, data: colourbarSteps, renderItem: renderColourbar, encode: { y: [0, 1] }, silent: true },
    { type: "custom", xAxisIndex: 2, yAxisIndex: 2, data: colourbarEdges.map((v) => [v]), renderItem: renderSeam, encode: { y: 0 }, silent: true, z: 3 },
    { type: "custom", xAxisIndex: 3, yAxisIndex: 3, data: colourbarEdges.map((v) => [v]), renderItem: renderSeam, encode: { y: 0 }, silent: true, z: 3 },
  ],
};

myChart.setOption(option);
</script>
</body>
</html>
